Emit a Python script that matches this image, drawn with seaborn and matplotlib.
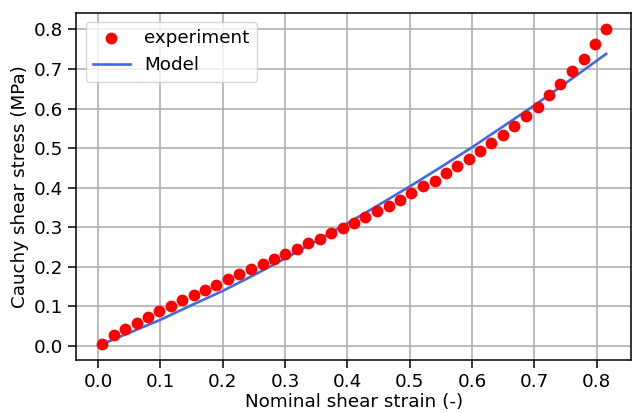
import numpy as np
import pandas as pd
import matplotlib
matplotlib.use("Agg")
import matplotlib.pyplot as plt
import seaborn as sns

# experiment points
strain_exp = [0.006, 0.025, 0.044, 0.062, 0.081, 0.098, 0.117, 0.135, 0.154, 0.172,
              0.190, 0.209, 0.227, 0.245, 0.264, 0.282, 0.300, 0.319, 0.337, 0.356,
              0.374, 0.393, 0.411, 0.429, 0.448, 0.466, 0.484, 0.502, 0.521, 0.540,
              0.558, 0.576, 0.595, 0.613, 0.631, 0.650, 0.668, 0.687, 0.705, 0.723,
              0.741, 0.760, 0.779, 0.797, 0.815]
stress_exp = [0.006, 0.027, 0.044, 0.058, 0.073, 0.088, 0.101, 0.115, 0.128, 0.142,
              0.155, 0.168, 0.181, 0.194, 0.206, 0.219, 0.232, 0.245, 0.259, 0.271,
              0.285, 0.299, 0.311, 0.327, 0.340, 0.354, 0.370, 0.387, 0.403, 0.418,
              0.437, 0.454, 0.473, 0.492, 0.512, 0.534, 0.557, 0.581, 0.605, 0.633,
              0.662, 0.694, 0.726, 0.764, 0.802]

# model curve
strain_mod = [0.006, 0.05, 0.1, 0.15, 0.2, 0.25, 0.3, 0.35, 0.4, 0.45, 0.5,
              0.55, 0.6, 0.65, 0.7, 0.75, 0.815]
stress_mod = [0.004, 0.033, 0.066, 0.103, 0.139, 0.179, 0.221, 0.265, 0.310, 0.356,
              0.403, 0.452, 0.502, 0.555, 0.608, 0.664, 0.738]

exp_df = pd.DataFrame({"strain": strain_exp, "stress": stress_exp})
mod_df = pd.DataFrame({"strain": strain_mod, "stress": stress_mod})

plt.rcParams["font.family"] = ["DejaVu Sans"]
fs = 13.2

fig, ax = plt.subplots(figsize=(6.32, 4.13), dpi=100)
sns.scatterplot(data=exp_df, x="strain", y="stress", color="red", s=72,
                linewidth=0, label="experiment", ax=ax, zorder=3)
sns.lineplot(data=mod_df, x="strain", y="stress", color="royalblue", linewidth=1.9,
             label="Model", ax=ax, zorder=2)

ax.set_xticks([0.0, 0.1, 0.2, 0.3, 0.4, 0.5, 0.6, 0.7, 0.8])
ax.set_yticks([0.0, 0.1, 0.2, 0.3, 0.4, 0.5, 0.6, 0.7, 0.8])
ax.grid(True, color="#b0b0b0", linewidth=1.2)
ax.set_axisbelow(True)
ax.tick_params(labelsize=fs, length=6, width=1.1, pad=3.5)
for sp in ax.spines.values():
    sp.set_linewidth(1.1)
ax.set_xlabel("Nominal shear strain (-)", fontsize=fs, labelpad=1.5)
ax.set_ylabel("Cauchy shear stress (MPa)", fontsize=fs, labelpad=3.5)
ax.legend(loc="upper left", fontsize=fs, scatterpoints=1, borderaxespad=0.5)

fig.subplots_adjust(left=0.121, right=0.999, top=0.969, bottom=0.128)
fig.savefig("out.png", dpi=100)
